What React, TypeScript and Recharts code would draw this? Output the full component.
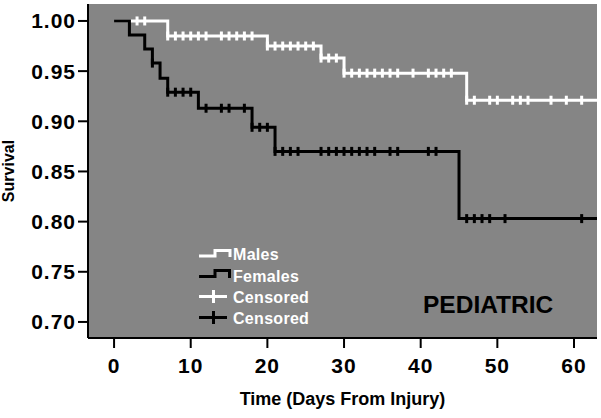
import React from 'react';
import { ComposedChart, Line, Scatter, XAxis, YAxis, CartesianGrid, Label } from 'recharts';

// Kaplan-Meier step points (time in days, survival)
const maleTimes = [0, 7, 20, 27, 30, 46, 63];
const maleSurvival = [1.0, 0.985, 0.975, 0.963, 0.948, 0.921, 0.921];
const maleCensored = [
  3, 4, 7, 8, 9, 10, 11, 12, 14, 15, 16, 17, 18, 20, 21, 22, 23, 24, 25, 26, 27, 28, 29,
  30, 31, 32, 33, 34, 35, 36, 37, 39, 41, 42, 43, 44, 46, 47, 49, 50, 52, 53, 54, 57, 59, 61,
];

const femaleTimes = [0, 2, 4, 5, 6, 7, 11, 18, 21, 45, 63];
const femaleSurvival = [1.0, 0.986, 0.972, 0.958, 0.943, 0.929, 0.913, 0.894, 0.87, 0.803, 0.803];
const femaleCensored = [
  5, 7, 8, 9, 10, 12, 14, 15, 17, 18, 19, 20, 21, 22, 23, 24, 27, 28, 29, 30, 31, 32, 33, 34,
  36, 37, 41, 42, 46, 47, 48, 49, 51, 61,
];

const xTicks = [0, 10, 20, 30, 40, 50, 60];
const yTicks = [0.7, 0.75, 0.8, 0.85, 0.9, 0.95, 1.0];

const FONT = 'Arial, "Liberation Sans", sans-serif';
const PLOT_BG = '#858585';

const toSteps = (times: number[], surv: number[]) => times.map((t, i) => ({ t, s: surv[i] }));

const survivalAt = (times: number[], surv: number[], t: number) => {
  let s = surv[0];
  times.forEach((tt, i) => {
    if (tt <= t) s = surv[i];
  });
  return s;
};

const toCensored = (times: number[], surv: number[], cens: number[]) =>
  cens.map((t) => ({ t, s: survivalAt(times, surv, t) }));

const maleData = toSteps(maleTimes, maleSurvival);
const femaleData = toSteps(femaleTimes, femaleSurvival);
const maleCens = toCensored(maleTimes, maleSurvival, maleCensored);
const femaleCens = toCensored(femaleTimes, femaleSurvival, femaleCensored);

const censorMark = (color: string) => (props: any) => {
  const { cx, cy } = props;
  return <rect x={cx - 1.5} y={cy - 4.5} width={3} height={9} fill={color} />;
};

const tickStyle = { fontFamily: FONT, fontWeight: 700, fontSize: 21, fill: '#000', letterSpacing: 1 };

function Overlay() {
  const text = { fontFamily: FONT, fontWeight: 700, fontSize: 16, fill: '#fff', letterSpacing: 0.3 };
  return (
    <svg width={601} height={418} style={{ position: 'absolute', left: 0, top: 0, pointerEvents: 'none' }}>
      <path d="M199 256 H215 V250.5 H230 V257" fill="none" stroke="#fff" strokeWidth={3} />
      <text x={233} y={260} {...text}>Males</text>
      <path d="M199 276.5 H215 V270.5 H229.5 V278" fill="none" stroke="#000" strokeWidth={3} />
      <text x={233} y={281.5} {...text}>Females</text>
      <path d="M199 296.5 H227 M213.5 290 V303" fill="none" stroke="#fff" strokeWidth={3} />
      <text x={233} y={302.5} {...text}>Censored</text>
      <path d="M199 317.5 H227 M213.5 311 V324" fill="none" stroke="#000" strokeWidth={3} />
      <text x={233} y={323.5} {...text}>Censored</text>
      <text x={423} y={312.5} fontFamily={FONT} fontWeight={700} fontSize={24.5} fill="#000">
        PEDIATRIC
      </text>
    </svg>
  );
}

export default function App() {
  return (
    <div style={{ position: 'absolute', left: 0, top: 0, width: 601, height: 418, background: '#fff' }}>
      <ComposedChart width={601} height={418} margin={{ top: 4, right: 4, bottom: 30, left: 0 }}>
        <CartesianGrid horizontal={false} vertical={false} fill={PLOT_BG} stroke="none" />
        <XAxis
          dataKey="t"
          type="number"
          domain={[-3.4, 63]}
          allowDataOverflow
          ticks={xTicks}
          height={50}
          tickSize={10}
          tickMargin={10}
          tick={tickStyle}
          axisLine={{ stroke: '#000', strokeWidth: 2 }}
          tickLine={{ stroke: '#000', strokeWidth: 2 }}
        >
          <Label
            value="Time (Days From Injury)"
            position="bottom"
            offset={4}
            style={{ fontFamily: FONT, fontWeight: 700, fontSize: 18, fill: '#000' }}
          />
        </XAxis>
        <XAxis
          xAxisId="top"
          orientation="top"
          type="number"
          domain={[-3.4, 63]}
          height={0}
          tick={false}
          tickLine={false}
          axisLine={{ stroke: '#000', strokeWidth: 1.5 }}
        />
        <YAxis
          type="number"
          domain={[0.684, 1.0169]}
          allowDataOverflow
          ticks={yTicks}
          width={88}
          tickSize={10}
          tickMargin={2}
          tick={tickStyle}
          tickFormatter={(v: number) => v.toFixed(2)}
          axisLine={{ stroke: '#000', strokeWidth: 2 }}
          tickLine={{ stroke: '#000', strokeWidth: 2 }}
        >
          <Label
            value="Survival"
            angle={-90}
            position="insideLeft"
            offset={8}
            style={{ fontFamily: FONT, fontWeight: 700, fontSize: 16, fill: '#000', textAnchor: 'middle' }}
          />
        </YAxis>
        <YAxis
          yAxisId="right"
          orientation="right"
          type="number"
          domain={[0.684, 1.0169]}
          width={0}
          tick={false}
          tickLine={false}
          axisLine={{ stroke: '#000', strokeWidth: 1.5 }}
        />
        <Line
          data={maleData}
          dataKey="s"
          type="stepAfter"
          stroke="#fff"
          strokeWidth={3}
          dot={false}
          isAnimationActive={false}
        />
        <Scatter data={maleCens} dataKey="s" shape={censorMark('#fff')} isAnimationActive={false} />
        <Line
          data={femaleData}
          dataKey="s"
          type="stepAfter"
          stroke="#000"
          strokeWidth={3}
          dot={false}
          isAnimationActive={false}
        />
        <Scatter data={femaleCens} dataKey="s" shape={censorMark('#000')} isAnimationActive={false} />
      </ComposedChart>
      <Overlay />
    </div>
  );
}
